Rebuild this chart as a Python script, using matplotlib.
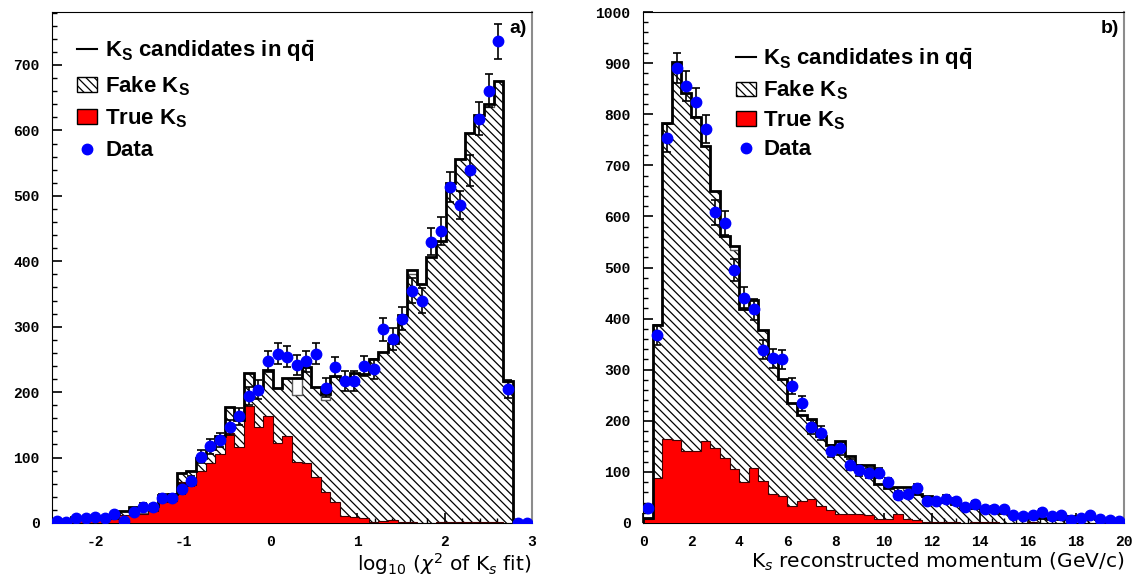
import numpy as np
import matplotlib.pyplot as plt
from matplotlib.lines import Line2D
from matplotlib.patches import Patch
from matplotlib.ticker import MultipleLocator

plt.rcParams['mathtext.fontset'] = 'custom'
plt.rcParams['mathtext.rm'] = 'Liberation Sans'
plt.rcParams['mathtext.bf'] = 'Liberation Sans:bold'
plt.rcParams['mathtext.it'] = 'Liberation Sans:italic'
plt.rcParams['axes.unicode_minus'] = False
plt.rcParams['hatch.linewidth'] = 0.9

# a) log10(chi2 of Ks fit), 50 bins from -2.5 to 3
chi_edges = np.linspace(-2.5, 3.0, 51)
chi_total = [5, 5, 9, 9, 9, 11, 13, 18, 24, 23, 26, 43, 44, 77, 80, 100, 113, 133, 178, 157,
             230, 207, 234, 207, 222, 222, 238, 208, 197, 225, 218, 230, 228, 250, 262, 275, 318, 387, 366, 407,
             431, 519, 556, 596, 623, 640, 675, 217, 0, 0]
chi_fake = [5, 5, 9, 9, 9, 11, 13, 18, 24, 16, 26, 43, 44, 77, 80, 100, 113, 133, 178, 157,
            230, 207, 234, 207, 222, 196, 238, 208, 188, 225, 218, 230, 228, 250, 262, 275, 318, 380, 366, 407,
            431, 519, 556, 596, 623, 636, 675, 215, 0, 0]
chi_true = [2, 2, 4, 4, 4, 4, 6, 12, 16, 14, 19, 32, 34, 62, 58, 80, 92, 105, 138, 116,
            179, 147, 164, 123, 133, 93, 91, 71, 47, 32, 11, 9, 7, 1, 3, 4, 1, 1, 0, 0,
            1, 1, 2, 2, 1, 1, 1, 0, 0, 0]
chi_data = [3, 1, 7, 7, 9, 7, 13, 3, 17, 25, 24, 38, 38, 52, 64, 101, 117, 127, 146, 163,
            194, 204, 247, 259, 254, 241, 247, 259, 207, 239, 217, 217, 240, 236, 296, 281, 312, 355, 340, 430,
            446, 514, 486, 539, 618, 661, 736, 205, 0, 0]

# b) Ks reconstructed momentum, 50 bins from 0 to 20 GeV/c
p_edges = np.linspace(0, 20, 51)
p_total = [10, 388, 783, 902, 842, 795, 737, 650, 561, 542, 418, 437, 377, 320, 282, 235, 211, 203, 170, 153,
           160, 131, 114, 113, 76, 68, 70, 70, 56, 53, 45, 42, 38, 32, 30, 24, 24, 20, 16, 12,
           10, 10, 8, 8, 13, 10, 9, 8, 7, 6]
p_fake = [10, 388, 783, 902, 842, 795, 737, 650, 561, 535, 418, 420, 377, 320, 282, 235, 211, 203, 170, 153,
          152, 131, 114, 113, 76, 68, 70, 64, 56, 53, 45, 42, 38, 32, 30, 24, 24, 20, 16, 12,
          10, 10, 8, 8, 13, 10, 9, 8, 7, 6]
p_true = [7, 89, 165, 163, 140, 140, 160, 147, 128, 106, 80, 107, 83, 57, 53, 34, 44, 47, 34, 25,
          18, 17, 17, 16, 8, 7, 17, 7, 6, 2, 2, 1, 2, 0, 1, 1, 2, 0, 0, 0,
          1, 0, 0, 0, 0, 0, 0, 0, 0, 0]
p_data = [30, 368, 754, 890, 856, 823, 771, 608, 587, 495, 441, 418, 339, 322, 320, 268, 234, 188, 176, 141,
          146, 114, 103, 98, 98, 80, 55, 56, 68, 43, 43, 47, 43, 32, 37, 27, 28, 27, 16, 13,
          15, 22, 14, 16, 6, 10, 16, 7, 5, 4]

leg_labels = [r'K$_\mathbf{S}$ candidates in $\mathbf{q\bar{q}}$', r'Fake K$_\mathbf{S}$',
              r'True K$_\mathbf{S}$', 'Data']


def draw_panel(ax, edges, total, fake, true, data, ymax, xmaj, xmin, tag, xlabel,
               leg_anchor, leg_space):
    edges = np.asarray(edges)
    data = np.asarray(data, dtype=float)
    centers = 0.5 * (edges[:-1] + edges[1:])
    # fake Ks: hatched, stacked on top of true
    ax.stairs(fake, edges, fill=True, facecolor='white', edgecolor='black', lw=0,
              hatch='\\\\\\\\', zorder=1)
    ax.stairs(fake, edges, color='0.35', lw=1.0, zorder=2)
    ax.stairs(true, edges, fill=True, facecolor='#ff0000', edgecolor='#400000', lw=0.8, zorder=3)
    ax.stairs(total, edges, color='black', lw=2.0, zorder=4)
    ax.errorbar(centers, data, yerr=np.sqrt(data), fmt='o', color='#0000ff', ms=7.5,
                ecolor='black', elinewidth=1.2, capsize=3, capthick=1.2, zorder=5)

    ax.set_xlim(edges[0], edges[-1])
    ax.set_ylim(0, ymax)
    ax.xaxis.set_major_locator(MultipleLocator(xmaj))
    ax.xaxis.set_minor_locator(MultipleLocator(xmin))
    ax.yaxis.set_major_locator(MultipleLocator(100))
    ax.yaxis.set_minor_locator(MultipleLocator(20))
    ax.tick_params(which='both', direction='in', top=False, right=False)
    ax.tick_params(which='major', length=7, width=1.2, pad=9)
    ax.tick_params(which='minor', length=3.5, width=1.0)
    for lab in ax.get_xticklabels() + ax.get_yticklabels():
        lab.set_fontfamily('Liberation Mono')
        lab.set_fontweight('bold')
        lab.set_fontsize(10.5)
    ax.spines['right'].set_color('0.55')
    ax.spines['right'].set_linewidth(1.5)

    ax.set_xlabel(xlabel, loc='right', fontsize=14.5, fontfamily='DejaVu Sans',
                  math_fontfamily='dejavusans', labelpad=1)
    ax.text(0.99, 0.985, tag, transform=ax.transAxes, ha='right', va='top',
            fontsize=14, fontweight='bold', fontfamily='Liberation Sans')

    handles = [Line2D([], [], color='black', lw=1.5),
               Patch(facecolor='white', edgecolor='black', hatch='\\\\\\\\', lw=1.0),
               Patch(facecolor='#ff0000', edgecolor='black', lw=1.0),
               Line2D([], [], ls='', marker='o', color='#0000ff', ms=7.5)]
    ax.legend(handles, leg_labels, loc='upper left', bbox_to_anchor=leg_anchor,
              frameon=False, handlelength=0.9, handleheight=0.65, handletextpad=0.35,
              labelspacing=leg_space, borderaxespad=0.2,
              prop={'family': 'Liberation Sans', 'weight': 'bold', 'size': 16})


fig = plt.figure(figsize=(11.37, 5.8), dpi=100)
ax1 = fig.add_axes([52 / 1137, 57 / 580, 480 / 1137, 511 / 580])
ax2 = fig.add_axes([643 / 1137, 57 / 580, 481 / 1137, 511 / 580])

draw_panel(ax1, chi_edges, chi_total, chi_fake, chi_true, chi_data, 781, 1, 0.2, 'a)',
           r'log$_{10}$ ($\chi^2$ of K$_s$ fit)', (0.025, 0.975), 0.45)
draw_panel(ax2, p_edges, p_total, p_fake, p_true, p_data, 1000, 2, 0.5, 'b)',
           r'K$_s$ reconstructed momentum (GeV/c)', (0.165, 0.96), 0.32)

fig.savefig('out.png', dpi=100)
